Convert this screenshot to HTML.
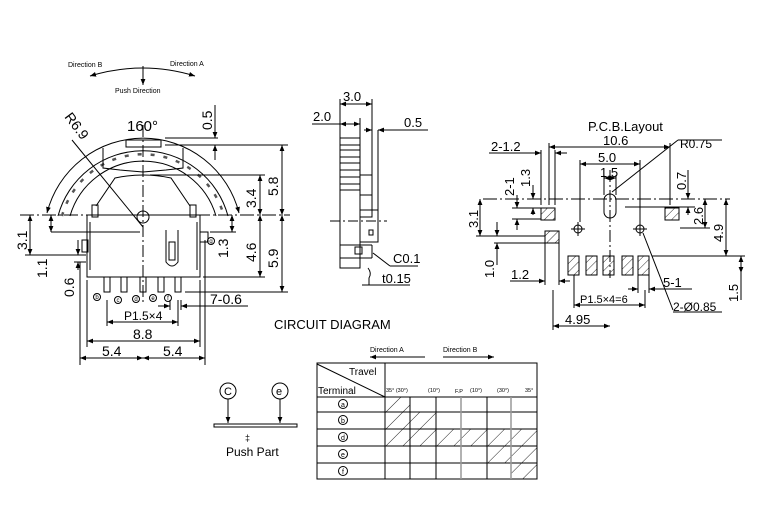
<!DOCTYPE html>
<html><head><meta charset="utf-8"><style>
html,body{margin:0;padding:0;background:#fff;}
svg{display:block;font-family:"Liberation Sans",sans-serif;}
</style></head><body>
<svg width="769" height="509" viewBox="0 0 769 509" xmlns="http://www.w3.org/2000/svg">
<defs>
<pattern id="h" width="6" height="6" patternUnits="userSpaceOnUse" patternTransform="rotate(45)"><line x1="0" y1="0" x2="0" y2="6" stroke="#333" stroke-width="1"/></pattern>
<pattern id="h2" width="12" height="12" patternUnits="userSpaceOnUse" patternTransform="rotate(45)"><line x1="0" y1="0" x2="0" y2="12" stroke="#222" stroke-width="1"/></pattern>
<marker id="a" viewBox="0 0 10 10" refX="10" refY="5" markerWidth="6" markerHeight="6" orient="auto-start-reverse"><path d="M0,1L10,5L0,9z" fill="#000"/></marker>
</defs>
<g fill="none" stroke="#000" stroke-width="1">
<path d="M90,76 Q143,60 195,76" marker-start="url(#a)" marker-end="url(#a)"/>
<line x1="143" y1="66" x2="143" y2="85" marker-end="url(#a)"/>
<path d="M47,213 A99,99 0 0 1 239,213" marker-start="url(#a)" marker-end="url(#a)"/>
<path d="M58,216 A88,88 0 0 1 228,216"/>
<path d="M62,216 A84,84 0 0 1 224,216" stroke-dasharray="4,9" stroke-width="2.5" stroke="#555"/>
<path d="M70,216 A76,76 0 0 1 216,216"/>
<path d="M96,206 L115,178 Q143,172 171,178 L190,206"/>
<path d="M103,148 L103,168 L120,170 L143,172 L166,170 L183,168 L183,148"/>
<rect x="126" y="140" width="35" height="7"/>
<line x1="143" y1="125" x2="143" y2="305" stroke-dasharray="12,3,2,3"/>
<line x1="20" y1="215" x2="290" y2="215" stroke-dasharray="14,3,2,3"/>
<circle cx="143" cy="217" r="6"/>
<line x1="72" y1="140" x2="143" y2="227"/>
<rect x="87" y="215" width="113" height="62"/>
<rect x="92" y="205" width="6" height="12"/>
<rect x="190" y="205" width="6" height="12"/>
<rect x="82" y="240" width="6" height="12"/>
<rect x="200" y="232" width="8" height="10"/>
<line x1="90" y1="222" x2="90" y2="270"/>
<line x1="197" y1="222" x2="197" y2="270"/>
<path d="M166,230 L166,262 Q172,270 178,262 L178,230"/>
<rect x="169" y="242" width="6" height="18"/>
<rect x="104" y="277" width="6" height="15"/><rect x="121" y="277" width="6" height="15"/><rect x="140" y="277" width="6" height="15"/><rect x="158" y="277" width="6" height="15"/><rect x="175" y="277" width="6" height="15"/>
<circle cx="97" cy="297" r="3.5"/><circle cx="118" cy="300" r="3.5"/><circle cx="136" cy="299" r="3.5"/><circle cx="153" cy="298" r="3.5"/><circle cx="168" cy="298" r="3.5"/><circle cx="211" cy="241" r="3.5"/>
<line x1="165" y1="138" x2="218" y2="138"/><line x1="165" y1="145" x2="288" y2="145"/>
<line x1="150" y1="175" x2="265" y2="175"/>
<line x1="203" y1="277" x2="265" y2="277"/><line x1="185" y1="292" x2="288" y2="292"/>
<line x1="215" y1="105" x2="215" y2="138" marker-end="url(#a)"/><line x1="215" y1="160" x2="215" y2="145" marker-end="url(#a)"/>
<line x1="260" y1="175" x2="260" y2="215" marker-start="url(#a)" marker-end="url(#a)"/>
<line x1="260" y1="215" x2="260" y2="277" marker-start="url(#a)" marker-end="url(#a)"/>
<line x1="282" y1="145" x2="282" y2="215" marker-start="url(#a)" marker-end="url(#a)"/>
<line x1="282" y1="215" x2="282" y2="292" marker-start="url(#a)" marker-end="url(#a)"/>
<line x1="232" y1="215" x2="232" y2="232" marker-start="url(#a)" marker-end="url(#a)"/>
<line x1="210" y1="232" x2="236" y2="232"/>
<line x1="30" y1="215" x2="30" y2="255" marker-start="url(#a)" marker-end="url(#a)"/>
<line x1="25" y1="255" x2="86" y2="255"/>
<line x1="51" y1="215" x2="51" y2="232" marker-start="url(#a)" marker-end="url(#a)"/>
<line x1="51" y1="232" x2="140" y2="232"/>
<line x1="78" y1="240" x2="78" y2="255" marker-end="url(#a)"/><line x1="78" y1="270" x2="78" y2="262" marker-end="url(#a)"/>
<line x1="74" y1="262" x2="86" y2="262"/>
<line x1="80" y1="262" x2="80" y2="365"/><line x1="205" y1="240" x2="205" y2="365"/>
<line x1="87" y1="280" x2="87" y2="347"/><line x1="200" y1="280" x2="200" y2="347"/>
<line x1="107" y1="300" x2="107" y2="326"/><line x1="178" y1="300" x2="178" y2="326"/>
<line x1="170" y1="300" x2="170" y2="310"/><line x1="181" y1="300" x2="181" y2="310"/>
<line x1="158" y1="306" x2="170" y2="306" marker-end="url(#a)"/><line x1="248" y1="306" x2="181" y2="306" marker-end="url(#a)"/>
<line x1="107" y1="322" x2="178" y2="322" marker-start="url(#a)" marker-end="url(#a)"/>
<line x1="87" y1="341" x2="200" y2="341" marker-start="url(#a)" marker-end="url(#a)"/>
<line x1="80" y1="358" x2="143" y2="358" marker-start="url(#a)" marker-end="url(#a)"/>
<line x1="143" y1="358" x2="205" y2="358" marker-start="url(#a)" marker-end="url(#a)"/>
<rect x="340" y="138" width="20" height="130"/>
<line x1="340" y1="145" x2="360" y2="145"/><line x1="340" y1="150" x2="360" y2="150"/><line x1="340" y1="157" x2="360" y2="157"/><line x1="340" y1="163" x2="360" y2="163"/><line x1="340" y1="170" x2="360" y2="170"/><line x1="340" y1="177" x2="360" y2="177"/><line x1="340" y1="184" x2="360" y2="184"/><line x1="340" y1="190" x2="360" y2="190"/>
<rect x="360" y="175" width="12" height="42"/><rect x="360" y="195" width="12" height="22"/>
<rect x="360" y="210" width="18" height="32"/><rect x="369" y="230" width="4" height="5"/>
<line x1="340" y1="245" x2="372" y2="245"/><line x1="372" y1="245" x2="372" y2="258"/><line x1="340" y1="258" x2="372" y2="258"/><rect x="355" y="247" width="7" height="7"/>
<line x1="330" y1="221" x2="387" y2="221" stroke-dasharray="10,3,2,3"/>
<line x1="340" y1="99" x2="340" y2="138"/><line x1="372" y1="99" x2="372" y2="175"/><line x1="360" y1="118" x2="360" y2="138"/><line x1="378" y1="130" x2="378" y2="210"/>
<line x1="340" y1="104" x2="372" y2="104" marker-start="url(#a)" marker-end="url(#a)"/>
<line x1="312" y1="124" x2="360" y2="124"/>
<line x1="345" y1="124" x2="340" y2="124" marker-end="url(#a)"/><line x1="355" y1="124" x2="360" y2="124" marker-end="url(#a)"/>
<line x1="364" y1="130" x2="372" y2="130" marker-end="url(#a)"/><line x1="428" y1="130" x2="378" y2="130" marker-end="url(#a)"/>
<line x1="373" y1="253" x2="390" y2="266"/><line x1="390" y1="266" x2="418" y2="266"/>
<path d="M368,268 Q372,273 369,278 L369,285"/>
<line x1="362" y1="285" x2="410" y2="285"/>
<line x1="483" y1="199" x2="730" y2="199" stroke-dasharray="14,3,2,3"/>
<line x1="610" y1="170" x2="610" y2="278" stroke-dasharray="12,3,2,3"/>
<rect x="604" y="194" width="12" height="24" rx="6"/>
<circle cx="578" cy="229" r="4"/><line x1="571" y1="229" x2="585" y2="229"/><line x1="578" y1="222" x2="578" y2="236"/>
<circle cx="640" cy="229" r="4"/><line x1="633" y1="229" x2="647" y2="229"/><line x1="640" y1="222" x2="640" y2="236"/>
<rect x="541" y="208" width="14" height="12" fill="url(#h)"/><rect x="545" y="231" width="14" height="12" fill="url(#h)"/><rect x="665" y="208" width="14" height="12" fill="url(#h)"/>
<rect x="568" y="256" width="11" height="19" fill="url(#h)"/><rect x="586" y="256" width="11" height="19" fill="url(#h)"/><rect x="603" y="256" width="11" height="19" fill="url(#h)"/><rect x="622" y="256" width="11" height="19" fill="url(#h)"/><rect x="638" y="256" width="11" height="19" fill="url(#h)"/>
<line x1="549" y1="143" x2="549" y2="205"/><line x1="555" y1="150" x2="555" y2="205"/><line x1="670" y1="143" x2="670" y2="205"/>
<line x1="549" y1="147" x2="670" y2="147" marker-start="url(#a)" marker-end="url(#a)"/>
<line x1="489" y1="153" x2="541" y2="153"/><line x1="530" y1="153" x2="541" y2="153" marker-end="url(#a)"/><line x1="567" y1="153" x2="555" y2="153" marker-end="url(#a)"/><line x1="541" y1="150" x2="541" y2="205"/>
<line x1="580" y1="160" x2="580" y2="222"/><line x1="640" y1="160" x2="640" y2="222"/>
<line x1="580" y1="164" x2="640" y2="164" marker-start="url(#a)" marker-end="url(#a)"/>
<line x1="604" y1="175" x2="604" y2="195"/><line x1="616" y1="175" x2="616" y2="195"/>
<line x1="604" y1="178" x2="616" y2="178" marker-start="url(#a)" marker-end="url(#a)"/>
<line x1="612" y1="192" x2="678" y2="140"/><line x1="678" y1="140" x2="722" y2="140"/>
<line x1="625" y1="207" x2="695" y2="207"/>
<line x1="688" y1="170" x2="688" y2="199" marker-end="url(#a)"/><line x1="688" y1="215" x2="688" y2="207" marker-end="url(#a)"/>
<line x1="680" y1="228" x2="710" y2="228"/>
<line x1="705" y1="199" x2="705" y2="228" marker-start="url(#a)" marker-end="url(#a)"/>
<line x1="652" y1="256" x2="745" y2="256"/>
<line x1="726" y1="199" x2="726" y2="256" marker-start="url(#a)" marker-end="url(#a)"/>
<line x1="741" y1="256" x2="741" y2="273" marker-start="url(#a)" marker-end="url(#a)"/><line x1="741" y1="273" x2="741" y2="300"/>
<line x1="480" y1="199" x2="480" y2="236" marker-start="url(#a)" marker-end="url(#a)"/><line x1="476" y1="236" x2="545" y2="236"/>
<line x1="512" y1="219" x2="541" y2="219"/><line x1="517" y1="195" x2="517" y2="208" marker-end="url(#a)"/><line x1="517" y1="230" x2="517" y2="219" marker-end="url(#a)"/><line x1="512" y1="208" x2="541" y2="208"/>
<line x1="533" y1="185" x2="533" y2="199" marker-end="url(#a)"/><line x1="533" y1="215" x2="533" y2="208" marker-end="url(#a)"/>
<line x1="494" y1="243" x2="545" y2="243"/><line x1="497" y1="222" x2="497" y2="236" marker-end="url(#a)"/><line x1="497" y1="265" x2="497" y2="243" marker-end="url(#a)"/>
<line x1="545" y1="243" x2="545" y2="285"/><line x1="559" y1="243" x2="559" y2="285"/>
<line x1="510" y1="281" x2="545" y2="281"/><line x1="535" y1="281" x2="545" y2="281" marker-end="url(#a)"/><line x1="570" y1="281" x2="559" y2="281" marker-end="url(#a)"/>
<line x1="638" y1="275" x2="638" y2="293"/><line x1="649" y1="275" x2="649" y2="293"/>
<line x1="628" y1="289" x2="638" y2="289" marker-end="url(#a)"/><line x1="692" y1="289" x2="649" y2="289" marker-end="url(#a)"/>
<line x1="574" y1="275" x2="574" y2="308"/><line x1="645" y1="290" x2="645" y2="308"/>
<line x1="574" y1="305" x2="645" y2="305" marker-start="url(#a)" marker-end="url(#a)"/>
<line x1="553" y1="290" x2="553" y2="330"/>
<line x1="553" y1="326" x2="610" y2="326" marker-start="url(#a)" marker-end="url(#a)"/>
<line x1="643" y1="233" x2="673" y2="310"/><line x1="673" y1="312" x2="722" y2="312"/>
<circle cx="228" cy="391" r="8"/><circle cx="280" cy="391" r="8"/>
<line x1="228" y1="399" x2="228" y2="423" marker-end="url(#a)"/><line x1="280" y1="399" x2="280" y2="423" marker-end="url(#a)"/>
<rect x="214" y="424" width="83" height="3"/>
<line x1="370" y1="357" x2="425" y2="357" marker-start="url(#a)"/>
<line x1="443" y1="357" x2="494" y2="357" marker-end="url(#a)"/>
<rect x="385" y="397" width="25" height="15" fill="url(#h2)" stroke="none"/>
<rect x="385" y="412" width="51" height="17" fill="url(#h2)" stroke="none"/>
<rect x="385" y="429" width="152" height="17" fill="url(#h2)" stroke="none"/>
<rect x="487" y="446" width="50" height="17" fill="url(#h2)" stroke="none"/>
<rect x="511" y="463" width="26" height="16" fill="url(#h2)" stroke="none"/>
<rect x="317" y="363" width="220" height="116"/>
<line x1="317" y1="397" x2="537" y2="397"/><line x1="317" y1="412" x2="537" y2="412"/><line x1="317" y1="429" x2="537" y2="429"/><line x1="317" y1="446" x2="537" y2="446"/><line x1="317" y1="463" x2="537" y2="463"/>
<line x1="385" y1="363" x2="385" y2="479"/>
<line x1="410" y1="397" x2="410" y2="479"/><line x1="436" y1="397" x2="436" y2="479"/><line x1="461" y1="397" x2="461" y2="479" stroke="#999" stroke-width="1.5"/><line x1="487" y1="397" x2="487" y2="479"/><line x1="511" y1="397" x2="511" y2="479" stroke="#999" stroke-width="1.5"/>
<line x1="317" y1="364" x2="385" y2="397"/>
<circle cx="343" cy="404" r="4.5"/><circle cx="343" cy="420" r="4.5"/><circle cx="343" cy="437" r="4.5"/><circle cx="343" cy="454" r="4.5"/><circle cx="343" cy="471" r="4.5"/>
</g>
<g fill="#000" font-size="14">
<text x="68" y="67" font-size="7">Direction B</text><text x="170" y="66" font-size="7">Direction A</text><text x="115" y="93" font-size="7">Push Direction</text>
<text x="127" y="131" font-size="15">160°</text>
<text transform="translate(64,117) rotate(53)" font-size="14">R6.9</text>
<text transform="translate(212,130) rotate(-90)">0.5</text>
<text transform="translate(256,208) rotate(-90)">3.4</text>
<text transform="translate(278,196) rotate(-90)">5.8</text>
<text transform="translate(256,262) rotate(-90)">4.6</text>
<text transform="translate(278,268) rotate(-90)">5.9</text>
<text transform="translate(228,258) rotate(-90)">1.3</text>
<text transform="translate(27,250) rotate(-90)">3.1</text>
<text transform="translate(47,278) rotate(-90)">1.1</text>
<text transform="translate(74,297) rotate(-90)">0.6</text>
<text x="210" y="304">7-0.6</text>
<text x="124" y="320" font-size="12">P1.5×4</text>
<text x="133" y="339">8.8</text>
<text x="102" y="356">5.4</text><text x="163" y="356">5.4</text>
<text x="343" y="101" font-size="13">3.0</text>
<text x="313" y="121" font-size="13">2.0</text>
<text x="404" y="127" font-size="13">0.5</text>
<text x="393" y="263" font-size="13">C0.1</text>
<text x="382" y="283" font-size="13">t0.15</text>
<text x="274" y="329" font-size="13">CIRCUIT DIAGRAM</text>
<text x="588" y="131" font-size="13">P.C.B.Layout</text>
<text x="603" y="145" font-size="13">10.6</text>
<text x="491" y="151" font-size="13">2-1.2</text>
<text x="598" y="162" font-size="13">5.0</text>
<text x="600" y="177" font-size="13">1.5</text>
<text x="680" y="148" font-size="12">R0.75</text>
<text transform="translate(686,190) rotate(-90)" font-size="13">0.7</text>
<text transform="translate(703,225) rotate(-90)" font-size="13">2.6</text>
<text transform="translate(723,242) rotate(-90)" font-size="13">4.9</text>
<text transform="translate(738,302) rotate(-90)" font-size="13">1.5</text>
<text transform="translate(478,228) rotate(-90)" font-size="13">3.1</text>
<text transform="translate(514,196) rotate(-90)" font-size="13">2-1</text>
<text transform="translate(530,187) rotate(-90)" font-size="13">1.3</text>
<text transform="translate(494,278) rotate(-90)" font-size="13">1.0</text>
<text x="511" y="279" font-size="13">1.2</text>
<text x="663" y="287" font-size="13">5-1</text>
<text x="580" y="303" font-size="11">P1.5×4=6</text>
<text x="565" y="324" font-size="13">4.95</text>
<text x="673" y="311" font-size="12">2-Ø0.85</text>
<text x="224" y="395" font-size="11">C</text><text x="276" y="395" font-size="11">e</text>
<text x="245" y="441" font-size="9">‡</text>
<text x="226" y="456" font-size="12">Push Part</text>
<text x="370" y="352" font-size="7">Direction A</text><text x="443" y="352" font-size="7">Direction B</text>
<text x="349" y="375" font-size="10">Travel</text>
<text x="318" y="394" font-size="10">Terminal</text>
<g font-size="5.5"><text x="386" y="392">35° (30°)</text><text x="428" y="392">(10°)</text><text x="455" y="393">F.P</text><text x="470" y="392">(10°)</text><text x="497" y="392">(30°)</text><text x="525" y="392">35°</text></g>
<g font-size="7" text-anchor="middle"><text x="343" y="407">a</text><text x="343" y="423">b</text><text x="343" y="440">d</text><text x="343" y="457">e</text><text x="343" y="474">f</text></g>
<g font-size="6" text-anchor="middle"><text x="97" y="299">b</text><text x="118" y="302">c</text><text x="136" y="301">d</text><text x="153" y="300">e</text><text x="168" y="300">f</text><text x="211" y="243">g</text></g>
</g>
</svg>
</body></html>
